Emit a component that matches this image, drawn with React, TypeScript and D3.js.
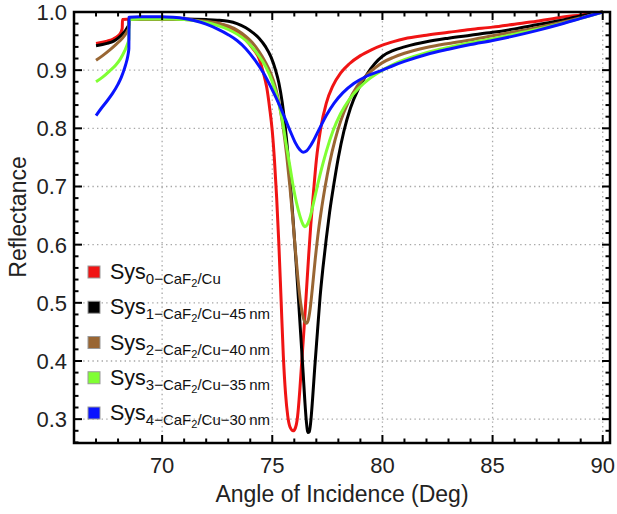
import React, { useRef, useEffect } from 'react';
import * as d3 from 'd3';

type Pt = [number, number];

// Reflectance vs angle of incidence, one array per system
const sys0: Pt[] = [
  [67.0, 0.946], [67.5, 0.950], [67.8, 0.954], [68.0, 0.959], [68.1, 0.963], [68.15, 0.967], [68.19, 0.972],
  [68.2, 0.987], [68.6, 0.988], [69.5, 0.988], [70.5, 0.988], [71.5, 0.987], [72.0, 0.985],
  [72.5, 0.981], [73.0, 0.974], [73.4, 0.965], [73.8, 0.952], [74.1, 0.938], [74.4, 0.920],
  [74.6, 0.895], [74.75, 0.870], [74.88, 0.835], [75.0, 0.795], [75.1, 0.745], [75.2, 0.680],
  [75.3, 0.600], [75.4, 0.505], [75.5, 0.410], [75.6, 0.345], [75.7, 0.306], [75.8, 0.287],
  [75.95, 0.280], [76.05, 0.285], [76.15, 0.305], [76.25, 0.350], [76.34, 0.400], [76.45, 0.460],
  [76.55, 0.520], [76.65, 0.580], [76.75, 0.635], [76.87, 0.690], [77.0, 0.745], [77.2, 0.800],
  [77.45, 0.843], [77.75, 0.873], [78.1, 0.895], [78.5, 0.911], [79.0, 0.925], [79.5, 0.935],
  [80.0, 0.943], [80.5, 0.949], [81.0, 0.954], [82.0, 0.960], [83.0, 0.965], [84.0, 0.970],
  [85.0, 0.974], [86.0, 0.979], [87.0, 0.984], [88.0, 0.990], [89.0, 0.995], [90.0, 1.0],
];

const sys1: Pt[] = [
  [67.0, 0.942], [67.5, 0.946], [67.8, 0.950], [68.0, 0.955], [68.2, 0.962], [68.35, 0.969], [68.45, 0.975], [68.49, 0.978],
  [68.5, 0.987], [69.0, 0.988], [70.0, 0.988], [71.0, 0.988], [72.0, 0.987], [72.5, 0.986],
  [73.0, 0.984], [73.4, 0.980], [73.8, 0.973], [74.1, 0.965], [74.4, 0.955], [74.7, 0.940],
  [74.95, 0.922], [75.15, 0.900], [75.3, 0.878], [75.45, 0.845], [75.58, 0.805], [75.7, 0.760],
  [75.82, 0.705], [75.95, 0.640], [76.08, 0.570], [76.2, 0.500], [76.3, 0.440], [76.4, 0.380],
  [76.48, 0.330], [76.55, 0.295], [76.62, 0.277], [76.68, 0.278], [76.75, 0.297], [76.83, 0.335],
  [76.93, 0.390], [77.05, 0.450], [77.17, 0.510], [77.3, 0.560], [77.45, 0.610], [77.6, 0.655],
  [77.8, 0.705], [78.0, 0.750], [78.25, 0.795], [78.55, 0.835], [78.9, 0.867], [79.3, 0.893],
  [79.65, 0.911], [80.0, 0.924], [80.5, 0.934], [81.0, 0.940], [81.5, 0.945], [82.0, 0.949],
  [83.0, 0.955], [84.0, 0.960], [85.0, 0.965], [86.0, 0.971], [87.0, 0.978], [88.0, 0.985],
  [89.0, 0.993], [90.0, 1.0],
];

const sys2: Pt[] = [
  [67.0, 0.917], [67.3, 0.925], [67.6, 0.934], [67.9, 0.944], [68.1, 0.951], [68.3, 0.960], [68.42, 0.967], [68.49, 0.973],
  [68.5, 0.987], [69.0, 0.987], [70.0, 0.987], [71.0, 0.987], [71.5, 0.986], [72.0, 0.984],
  [72.5, 0.981], [73.0, 0.976], [73.4, 0.969], [73.8, 0.958], [74.1, 0.947], [74.4, 0.932],
  [74.7, 0.913], [74.95, 0.893], [75.15, 0.870], [75.35, 0.835], [75.5, 0.800], [75.65, 0.755],
  [75.8, 0.700], [75.93, 0.645], [76.05, 0.590], [76.17, 0.540], [76.28, 0.502], [76.38, 0.479],
  [76.48, 0.467], [76.55, 0.465], [76.63, 0.470], [76.72, 0.490], [76.82, 0.525], [76.95, 0.575],
  [77.1, 0.625], [77.25, 0.665], [77.4, 0.700], [77.6, 0.740], [77.85, 0.780], [78.1, 0.812],
  [78.45, 0.845], [78.85, 0.872], [79.3, 0.892], [79.7, 0.905], [80.0, 0.913], [80.5, 0.922],
  [81.0, 0.929], [82.0, 0.939], [83.0, 0.946], [84.0, 0.952], [85.0, 0.959], [86.0, 0.966],
  [87.0, 0.973], [88.0, 0.981], [89.0, 0.990], [90.0, 1.0],
];

const sys3: Pt[] = [
  [67.0, 0.880], [67.3, 0.888], [67.6, 0.898], [67.9, 0.909], [68.1, 0.919], [68.3, 0.933], [68.42, 0.944], [68.49, 0.953],
  [68.5, 0.987], [69.0, 0.988], [70.0, 0.988], [70.5, 0.988], [71.0, 0.987], [71.5, 0.985],
  [72.0, 0.982], [72.5, 0.977], [73.0, 0.970], [73.4, 0.962], [73.8, 0.951], [74.1, 0.939],
  [74.4, 0.924], [74.7, 0.906], [75.0, 0.880], [75.25, 0.850], [75.45, 0.815], [75.62, 0.775],
  [75.8, 0.735], [75.95, 0.700], [76.1, 0.672], [76.25, 0.650], [76.38, 0.636], [76.48, 0.631],
  [76.58, 0.634], [76.7, 0.645], [76.85, 0.668], [77.0, 0.693], [77.2, 0.725], [77.45, 0.760],
  [77.75, 0.795], [78.1, 0.825], [78.5, 0.850], [78.9, 0.868], [79.4, 0.885], [80.0, 0.900],
  [80.5, 0.910], [81.0, 0.918], [82.0, 0.930], [83.0, 0.939], [84.0, 0.947], [85.0, 0.954],
  [86.0, 0.962], [87.0, 0.970], [88.0, 0.979], [89.0, 0.989], [90.0, 1.0],
];

const sys4: Pt[] = [
  [67.0, 0.822], [67.25, 0.835], [67.5, 0.847], [67.75, 0.860], [68.0, 0.876], [68.15, 0.888], [68.3, 0.904], [68.4, 0.917], [68.46, 0.928], [68.49, 0.937],
  [68.5, 0.991], [69.0, 0.992], [70.0, 0.992], [70.5, 0.991], [71.0, 0.989], [71.5, 0.985],
  [72.0, 0.979], [72.5, 0.971], [73.0, 0.961], [73.4, 0.951], [73.8, 0.937], [74.2, 0.918],
  [74.6, 0.895], [75.0, 0.866], [75.3, 0.842], [75.6, 0.815], [75.85, 0.792], [76.05, 0.775],
  [76.25, 0.763], [76.4, 0.759], [76.55, 0.761], [76.7, 0.768], [76.9, 0.781], [77.15, 0.800],
  [77.45, 0.822], [77.8, 0.843], [78.2, 0.861], [78.7, 0.877], [79.3, 0.890], [80.0, 0.900],
  [80.5, 0.908], [81.0, 0.915], [82.0, 0.927], [83.0, 0.936], [84.0, 0.944], [85.0, 0.951],
  [86.0, 0.959], [87.0, 0.968], [88.0, 0.978], [89.0, 0.989], [90.0, 1.0],
];

const seriesData = [sys0, sys1, sys2, sys3, sys4];
const seriesIndex = ['0', '1', '2', '3', '4'];
const seriesThickness = ['', '\u221245\u2009nm', '\u221240\u2009nm', '\u221235\u2009nm', '\u221230\u2009nm'];
const seriesColors = ['#f01414', '#000000', '#996633', '#80ff33', '#0a14ff'];

const xTicks = [70, 75, 80, 85, 90];
const yTicks = [0.3, 0.4, 0.5, 0.6, 0.7, 0.8, 0.9, 1.0];

const FONT = "'Liberation Sans', Arial, Helvetica, sans-serif";

const ReflectanceChart = ({ width = 617, height = 514 }) => {
  const svgRef = useRef<SVGSVGElement>(null);

  useEffect(() => {
    const svg = d3.select(svgRef.current);
    svg.selectAll('*').remove();

    const margin = { top: 12, right: 7, bottom: 71, left: 74 };
    const innerWidth = width - margin.left - margin.right;
    const innerHeight = height - margin.top - margin.bottom;

    const chart = svg.append('g').attr('transform', `translate(${margin.left},${margin.top})`);

    const xScale = d3.scaleLinear().domain([66.0, 90.33]).range([0, innerWidth]);
    const yScale = d3.scaleLinear().domain([0.259, 1.0]).range([innerHeight, 0]);

    // dotted grid
    const grid = chart.append('g')
      .attr('stroke', '#a8a8a8')
      .attr('stroke-width', 1.3)
      .attr('stroke-dasharray', '1.4 3.2');
    grid.selectAll('.gx')
      .data(xTicks)
      .enter()
      .append('line')
      .attr('x1', d => xScale(d))
      .attr('x2', d => xScale(d))
      .attr('y1', 0)
      .attr('y2', innerHeight);
    grid.selectAll('.gy')
      .data(yTicks.filter(d => d < 1))
      .enter()
      .append('line')
      .attr('x1', 0)
      .attr('x2', innerWidth)
      .attr('y1', d => yScale(d))
      .attr('y2', d => yScale(d));

    // curves
    const line = d3.line<Pt>()
      .x(d => xScale(d[0]))
      .y(d => yScale(d[1]))
      .curve(d3.curveMonotoneX);

    const clip = svg.append('defs').append('clipPath').attr('id', 'plot-clip');
    clip.append('rect').attr('width', innerWidth).attr('height', innerHeight + 2).attr('y', -2);

    chart.append('g')
      .attr('clip-path', 'url(#plot-clip)')
      .selectAll('path')
      .data(seriesData)
      .enter()
      .append('path')
      .attr('d', d => line(d))
      .attr('fill', 'none')
      .attr('stroke', (_, i) => seriesColors[i])
      .attr('stroke-width', 3)
      .attr('stroke-linejoin', 'round');

    // frame ticks on all four sides
    const xMinor = d3.range(67, 91, 1).filter(d => !xTicks.includes(d));
    const yMinor = d3.range(0.26, 1.0, 0.02).filter(d => !yTicks.some(t => Math.abs(t - d) < 1e-6));
    const ticks = chart.append('g').attr('stroke', '#000').attr('stroke-width', 2);
    const addX = (vals: number[], len: number) => {
      vals.forEach(v => {
        ticks.append('line').attr('x1', xScale(v)).attr('x2', xScale(v)).attr('y1', innerHeight).attr('y2', innerHeight - len);
        ticks.append('line').attr('x1', xScale(v)).attr('x2', xScale(v)).attr('y1', 0).attr('y2', len);
      });
    };
    const addY = (vals: number[], len: number) => {
      vals.forEach(v => {
        ticks.append('line').attr('y1', yScale(v)).attr('y2', yScale(v)).attr('x1', 0).attr('x2', len);
        ticks.append('line').attr('y1', yScale(v)).attr('y2', yScale(v)).attr('x1', innerWidth).attr('x2', innerWidth - len);
      });
    };
    addX(xTicks, 8);
    addX(xMinor, 4.5);
    addY(yTicks, 8);
    addY(yMinor, 4.5);

    chart.append('rect')
      .attr('width', innerWidth)
      .attr('height', innerHeight)
      .attr('fill', 'none')
      .attr('stroke', '#000')
      .attr('stroke-width', 2.5);

    // tick labels
    chart.selectAll('.xl')
      .data(xTicks)
      .enter()
      .append('text')
      .attr('x', d => xScale(d))
      .attr('y', innerHeight + 30)
      .attr('text-anchor', 'middle')
      .attr('font-family', FONT)
      .attr('font-size', '22px')
      .attr('fill', '#222')
      .text(d => d);

    chart.selectAll('.yl')
      .data(yTicks)
      .enter()
      .append('text')
      .attr('x', -7)
      .attr('y', d => yScale(d) + 8)
      .attr('text-anchor', 'end')
      .attr('font-family', FONT)
      .attr('font-size', '22px')
      .attr('fill', '#222')
      .text(d => d.toFixed(1));

    // axis titles
    svg.append('text')
      .attr('x', margin.left + innerWidth / 2)
      .attr('y', height - 12)
      .attr('text-anchor', 'middle')
      .attr('font-family', FONT)
      .attr('font-size', '23px')
      .attr('fill', '#222')
      .text('Angle of Incidence (Deg)');

    svg.append('text')
      .attr('transform', 'rotate(-90)')
      .attr('x', -217)
      .attr('y', 26)
      .attr('text-anchor', 'middle')
      .attr('font-family', FONT)
      .attr('font-size', '23px')
      .attr('fill', '#222')
      .text('Reflectance');

    // legend
    const legend = svg.append('g');
    const rowY = d3.scaleLinear().domain([0, 4]).range([272, 413]);
    seriesIndex.forEach((idx, i) => {
      const cy = rowY(i);
      legend.append('rect')
        .attr('x', 88)
        .attr('y', cy - 6)
        .attr('width', 12)
        .attr('height', 12)
        .attr('fill', seriesColors[i])
        .attr('stroke', '#999')
        .attr('stroke-width', 1);
      const t = legend.append('text')
        .attr('x', 110)
        .attr('y', cy + 7)
        .attr('font-family', FONT)
        .attr('fill', '#111');
      t.append('tspan').attr('font-size', '21.5px').text('Sys');
      t.append('tspan').attr('font-size', '15px').attr('dy', 5).text(`${idx}\u2212CaF`);
      t.append('tspan').attr('font-size', '11px').attr('dy', 3).text('2');
      t.append('tspan').attr('font-size', '15px').attr('dy', -3).text(`/Cu${seriesThickness[i]}`);
    });
  }, [width, height]);

  return <svg ref={svgRef} width={width} height={height} style={{ display: 'block' }}></svg>;
};

export default function App() {
  return (
    <div style={{ position: 'absolute', left: 0, top: 0, background: '#fff' }}>
      <ReflectanceChart />
    </div>
  );
}
